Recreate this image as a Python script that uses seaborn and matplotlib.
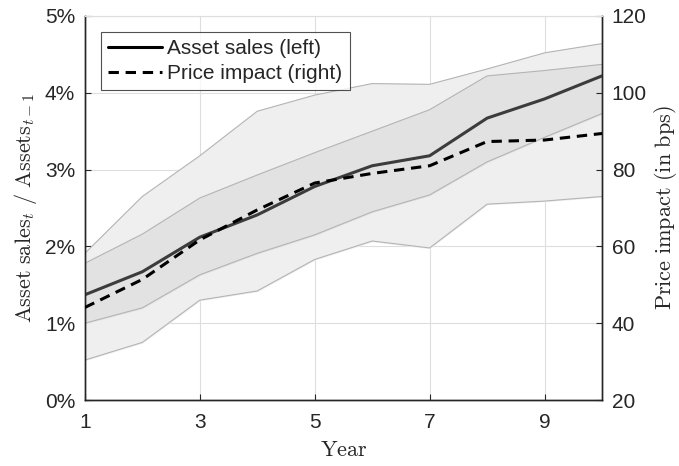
import numpy as np
import pandas as pd
import matplotlib
matplotlib.use("Agg")
import matplotlib.pyplot as plt
import seaborn as sns
from matplotlib.ticker import FuncFormatter
from matplotlib.lines import Line2D

# values
years = [1, 2, 3, 4, 5, 6, 7, 8, 9, 10]
asset_sales = [1.37, 1.67, 2.12, 2.41, 2.78, 3.05, 3.18, 3.67, 3.92, 4.22]      # % (left)
price_impact = [44.1, 51.4, 61.7, 69.5, 76.5, 79.0, 81.0, 87.3, 87.7, 89.4]      # bps (right)
inner_hi = [1.78, 2.16, 2.63, 2.93, 3.22, 3.50, 3.78, 4.22, 4.29, 4.37]
inner_lo = [1.00, 1.20, 1.63, 1.91, 2.15, 2.45, 2.67, 3.10, 3.42, 3.73]
outer_hi = [1.91, 2.65, 3.18, 3.76, 3.97, 4.12, 4.11, 4.31, 4.52, 4.64]
outer_lo = [0.52, 0.75, 1.30, 1.42, 1.83, 2.07, 1.98, 2.55, 2.59, 2.65]

df = pd.DataFrame({"Year": years, "Asset sales": asset_sales, "Price impact": price_impact})

sns.set_style("ticks")
plt.rcParams["font.family"] = ["Liberation Sans", "DejaVu Sans"]
plt.rcParams["mathtext.fontset"] = "cm"

fig = plt.figure(figsize=(6.79, 4.66), dpi=100)
ax = fig.add_axes([0.125, 0.1416, 0.7616, 0.8241])
ax2 = ax.twinx()

# bands
ax.fill_between(years, outer_lo, outer_hi, color="#efefef", zorder=1)
ax.fill_between(years, inner_lo, inner_hi, color="#e2e2e2", zorder=1)
for b in [outer_lo, outer_hi, inner_lo, inner_hi]:
    ax.plot(years, b, color="#b4b4b4", lw=0.8, zorder=2)

sns.lineplot(data=df, x="Year", y="Asset sales", ax=ax, color="#3c3c3c", lw=2.2, zorder=3)
sns.lineplot(data=df, x="Year", y="Price impact", ax=ax2, color="black", lw=2.2, zorder=4)
ax2.lines[0].set_linestyle((0, (3.4, 2.2)))

ax.set_xlim(1, 10)
ax.set_ylim(0, 5)
ax2.set_ylim(20, 120)
ax.set_xticks([1, 3, 5, 7, 9])
ax.set_yticks([0, 1, 2, 3, 4, 5])
ax2.set_yticks([20, 40, 60, 80, 100, 120])
ax.yaxis.set_major_formatter(FuncFormatter(lambda v, p: f"{v:.0f}%"))

ax.grid(True, color="#dedede", lw=0.8)
ax.set_axisbelow(True)
for a in (ax, ax2):
    a.tick_params(direction="in", length=4, labelsize=15, colors="#262626", labelcolor="#262626", pad=7)
    for s in ["left", "right", "bottom"]:
        a.spines[s].set_color("#262626")
        a.spines[s].set_linewidth(1.0)
    a.spines["top"].set_color("#dedede")
    a.spines["top"].set_visible(True)
    a.spines["right"].set_visible(True)
ax.tick_params(axis="x", pad=9)

ax.set_xlabel("$\\mathrm{Year}$", fontsize=16, labelpad=6)
ax.set_ylabel("$\\mathrm{Asset\\ sales}_t\\ /\\ \\mathrm{Assets}_{t-1}$", fontsize=16, labelpad=4)
ax2.set_ylabel("$\\mathrm{Price\\ impact\\ (in\\ bps)}$", fontsize=16, labelpad=4)

handles = [Line2D([], [], color="black", lw=2.2),
           Line2D([], [], color="black", lw=2.2, ls=(0, (3.4, 2.2)))]
leg = ax2.legend(handles, ["Asset sales (left)", "Price impact (right)"], loc="upper left",
                 fontsize=15, frameon=True, fancybox=False, edgecolor="#262626",
                 borderaxespad=0.75, handlelength=2.6, handletextpad=0.25, borderpad=0.35,
                 labelspacing=0.3)
leg.get_frame().set_linewidth(0.8)

fig.savefig("out.png", dpi=100)
